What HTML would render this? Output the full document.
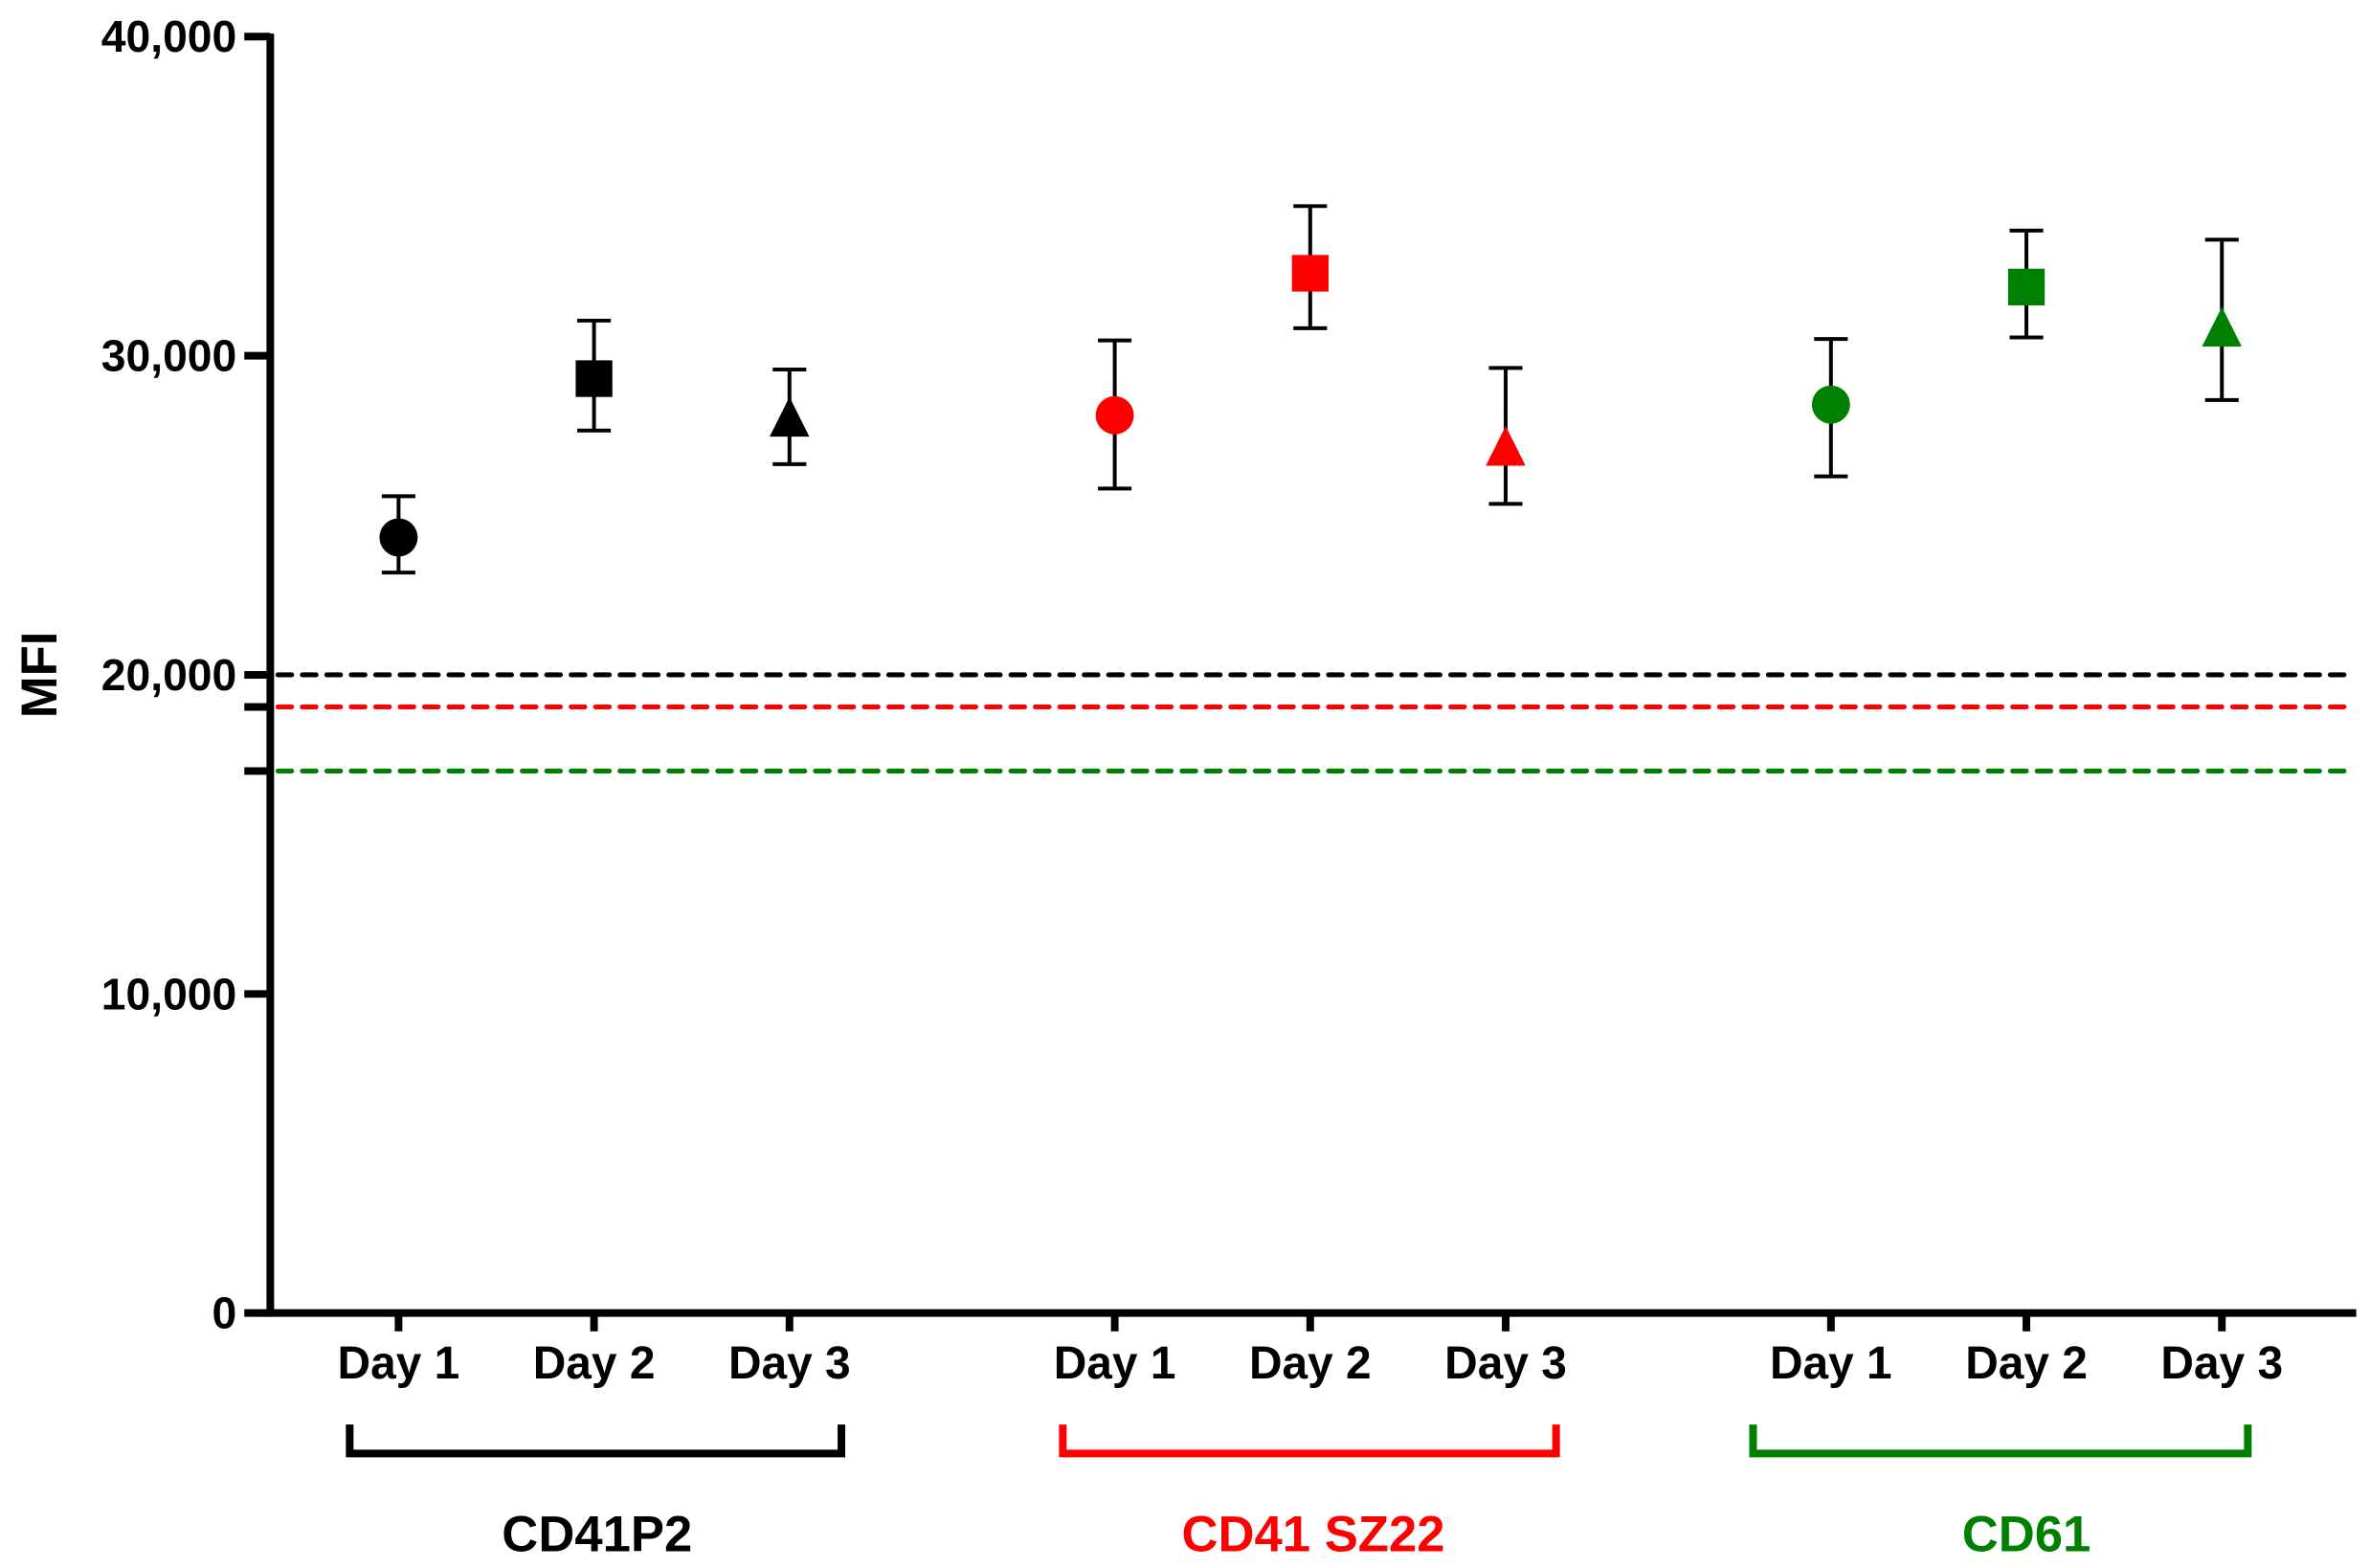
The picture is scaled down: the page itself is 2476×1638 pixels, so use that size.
<!DOCTYPE html>
<html><head><meta charset="utf-8"><style>html,body{margin:0;padding:0;background:#fff}svg{display:block}</style></head><body>
<svg width="2476" height="1638" viewBox="0 0 1552 1027" preserveAspectRatio="none" xmlns="http://www.w3.org/2000/svg" font-family="Liberation Sans, Arial, sans-serif" font-weight="bold">
<g stroke-width="3.2" stroke-dasharray="9,7" stroke-linecap="round">
<line x1="182" y1="442" x2="1542" y2="442" stroke="#000"/>
<line x1="182" y1="463" x2="1542" y2="463" stroke="#f00"/>
<line x1="182" y1="505" x2="1542" y2="505" stroke="#008000"/>
</g>
<g stroke="#000" stroke-width="5" fill="none">
<line x1="177" y1="22" x2="177" y2="862"/>
<line x1="175" y1="860" x2="1543" y2="860"/>
<line x1="160" y1="24" x2="177" y2="24"/>
<line x1="160" y1="233" x2="177" y2="233"/>
<line x1="160" y1="442" x2="177" y2="442"/>
<line x1="160" y1="463" x2="177" y2="463"/>
<line x1="160" y1="505" x2="177" y2="505"/>
<line x1="160" y1="651" x2="177" y2="651"/>
<line x1="160" y1="860" x2="177" y2="860"/>
<line x1="261" y1="860" x2="261" y2="872"/><line x1="389" y1="860" x2="389" y2="872"/><line x1="517" y1="860" x2="517" y2="872"/>
<line x1="730" y1="860" x2="730" y2="872"/><line x1="858" y1="860" x2="858" y2="872"/><line x1="986" y1="860" x2="986" y2="872"/>
<line x1="1199" y1="860" x2="1199" y2="872"/><line x1="1327" y1="860" x2="1327" y2="872"/><line x1="1455" y1="860" x2="1455" y2="872"/>
<polyline points="229,933 229,952 551,952 551,933"/>
<polyline points="696,933 696,952 1019,952 1019,933" stroke="#f00"/>
<polyline points="1148,933 1148,952 1472,952 1472,933" stroke="#008000"/>
</g>
<g font-size="29" text-anchor="end" fill="#000">
<text x="155" y="34">40,000</text><text x="155" y="243">30,000</text><text x="155" y="452">20,000</text><text x="155" y="661">10,000</text><text x="155" y="870">0</text>
</g>
<text transform="translate(37,442) rotate(-90)" font-size="33" text-anchor="middle">MFI</text>
<g font-size="30" text-anchor="middle" fill="#000">
<text x="261" y="903">Day 1</text><text x="389" y="903">Day 2</text><text x="517" y="903">Day 3</text>
<text x="730" y="903">Day 1</text><text x="858" y="903">Day 2</text><text x="986" y="903">Day 3</text>
<text x="1199" y="903">Day 1</text><text x="1327" y="903">Day 2</text><text x="1455" y="903">Day 3</text>
</g>
<g font-size="33" text-anchor="middle">
<text x="391" y="1016" fill="#000">CD41P2</text>
<text x="860" y="1016" fill="#f00">CD41 SZ22</text>
<text x="1327" y="1016" fill="#008000">CD61</text>
</g>
<g stroke="#000" stroke-width="2.5">
<path d="M261 325V375M250 325H272M250 375H272"/>
<path d="M389 210V282M378 210H400M378 282H400"/>
<path d="M517 242V304M506 242H528M506 304H528"/>
<path d="M730 223V320M719 223H741M719 320H741"/>
<path d="M858 135V215M847 135H869M847 215H869"/>
<path d="M986 241V330M975 241H997M975 330H997"/>
<path d="M1199 222V312M1188 222H1210M1188 312H1210"/>
<path d="M1327 151V221M1316 151H1338M1316 221H1338"/>
<path d="M1455 157V262M1444 157H1466M1444 262H1466"/>
</g>
<circle cx="261" cy="352" r="12.5" fill="#000"/>
<rect x="377" y="236" width="24" height="24" fill="#000"/>
<polygon points="517,260 530,286 504,286" fill="#000"/>
<circle cx="730" cy="272" r="12.5" fill="#f00"/>
<rect x="846" y="167" width="24" height="24" fill="#f00"/>
<polygon points="986,279 999,305 973,305" fill="#f00"/>
<circle cx="1199" cy="265" r="12.5" fill="#008000"/>
<rect x="1315" y="176" width="24" height="24" fill="#008000"/>
<polygon points="1455,201 1468,227 1442,227" fill="#008000"/>
</svg>
</body></html>
